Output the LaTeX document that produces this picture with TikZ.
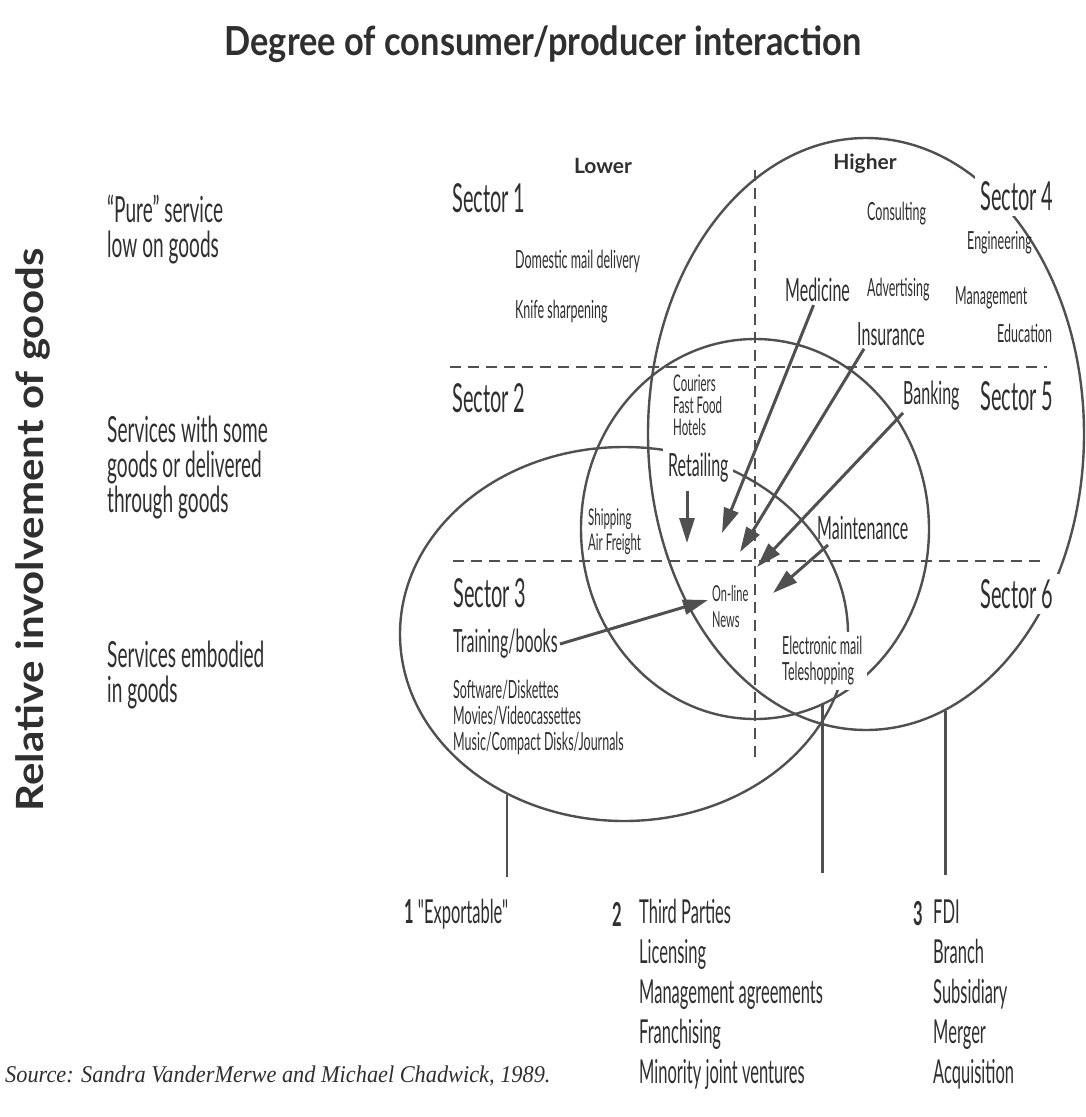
\documentclass[tikz,border=0pt]{standalone}
\usepackage{fontspec}
\usetikzlibrary{arrows.meta,shapes.geometric}
\setmainfont{Liberation Serif}
\newfontfamily\cf[FakeStretch=0.5]{Lato}
\newfontfamily\df[FakeStretch=0.53]{Lato}
\newfontfamily\hf{Lato}
\newfontfamily\vf[FakeStretch=1.12]{Lato}
\newfontfamily\tf[FakeStretch=0.86]{Lato}
\newfontfamily\srcfont[FakeStretch=0.93]{Liberation Serif}
\definecolor{ink}{HTML}{2f2f2f}
\definecolor{ln}{HTML}{505050}
\tikzset{
  lbl/.style={inner sep=0pt, anchor=west, text=ink, align=left},
  sectxt/.style={lbl, font=\cf\fontsize{40}{40}\selectfont},
  medtxt/.style={lbl, font=\cf\fontsize{32}{34}\selectfont},
  smtxt/.style={lbl, font=\cf\fontsize{25}{26}\selectfont},
  tinytxt/.style={lbl, font=\cf\fontsize{23}{22}\selectfont},
  desctxt/.style={lbl, font=\df\fontsize{36}{35}\selectfont},
  bottxt/.style={lbl, font=\cf\fontsize{33}{40}\selectfont},
  hdr/.style={inner sep=0pt, text=ink, font=\hf\bfseries\fontsize{21}{21}\selectfont},
  mask/.style={fill=white, inner sep=5pt},
  ellip/.style={draw=ln, line width=2.4pt, ellipse, inner sep=0pt},
  dsh/.style={draw=ln, line width=2pt, dash pattern=on 11pt off 7pt},
  arr/.style={draw=ln, line width=3pt, -{Triangle[length=25pt,width=15pt]}},
  conn/.style={draw=ln, line width=2.4pt},
}
\begin{document}
\begin{tikzpicture}[x=1pt,y=-1pt]
\useasboundingbox (0,0) rectangle (1086,1117);
\fill[white] (0,0) rectangle (1086,1117);

% ellipses
\node[ellip, minimum width=436pt, minimum height=592pt] (A) at (866,434) {};
\node[ellip, minimum width=348pt, minimum height=380pt] (B) at (755,529) {};
\node[ellip, minimum width=448pt, minimum height=374pt] (C) at (624,634) {};

% dashed grid
\draw[dsh] (755,170) -- (755,762);
\draw[dsh] (450,367) -- (1047,367);
\draw[dsh] (453,561) -- (1047,561);

% title and axis
\node[inner sep=0pt, text=ink, font=\tf\bfseries\fontsize{40}{42}\selectfont] (title) at (543,44) {Degree of consumer/producer interaction};
\node[inner sep=0pt, text=ink, rotate=90, font=\vf\bfseries\fontsize{37.5}{37.5}\selectfont] (yax) at (33,530) {Relative involvement of goods};

% left descriptions
\node[desctxt] (d1) at (107,230) {“Pure” service\\low on goods};
\node[desctxt] (d2) at (107,468) {Services with some\\goods or delivered\\through goods};
\node[desctxt] (d3) at (107,675) {Services embodied\\in goods};

% column headers
\node[hdr] (lower) at (603,166) {Lower};
\node[hdr] (higher) at (865,164) {Higher};

% sectors
\node[sectxt] (s1) at (452,198) {Sector 1};
\node[sectxt] (s2) at (452,398) {Sector 2};
\node[sectxt] (s3) at (453,593) {Sector 3};
\node[sectxt, mask] (s4) at (975,196) {Sector 4};
\node[sectxt] (s5) at (980,396) {Sector 5};
\node[sectxt, mask] (s6) at (975,594) {Sector 6};

% sector 1
\node[smtxt] (dom) at (515,261) {Domestic mail delivery};
\node[smtxt] (knf) at (515,312) {Knife sharpening};

% sector 4
\node[smtxt] (cons) at (867,214) {Consulting};
\node[smtxt] (eng) at (967,243) {Engineering};
\node[medtxt] (med) at (785,290) {Medicine};
\node[smtxt] (adv) at (867,290) {Advertising};
\node[smtxt] (mgt) at (955,298) {Management};
\node[medtxt] (ins) at (857,334) {Insurance};
\node[smtxt] (edu) at (997,333) {Education};

% sector 5 / 2
\node[medtxt] (bank) at (903,396) {Banking};
\node[medtxt] (mnt) at (817,528) {Maintenance};
\node[tinytxt] (cour) at (673,405) {Couriers\\Fast Food\\Hotels};
\node[medtxt, mask] (ret) at (663,468) {Retailing};
\node[tinytxt, font=\cf\fontsize{23}{25}\selectfont] (ship) at (588,532) {Shipping\\Air Freight};

% sector 3 / 6
\node[medtxt] (trn) at (453,644) {Training/books};
\node[smtxt] (soft) at (453,717) {Software/Diskettes\\Movies/Videocassettes\\Music/Compact Disks/Journals};
\node[tinytxt, font=\cf\fontsize{22}{26}\selectfont] (onl) at (712,606) {On-line\\News};
\node[smtxt, mask] (elm) at (777,661) {Electronic mail\\Teleshopping};

% bottom labels
\node[bottxt] (n1) at (404,914) {{\bfseries 1} "Exportable"};
\node[bottxt, font=\cf\bfseries\fontsize{33}{40}\selectfont] (n2) at (612,914) {2};
\node[bottxt] (l2) at (639,994) {Third Parties\\Licensing\\Management agreements\\Franchising\\Minority joint ventures};
\node[bottxt, font=\cf\bfseries\fontsize{33}{40}\selectfont] (n3) at (913,914) {3};
\node[bottxt] (l3) at (933,994) {FDI\\Branch\\Subsidiary\\Merger\\Acquisition};

\node[inner sep=0pt, anchor=west, text=ink, font=\srcfont\fontsize{24}{24}\selectfont\itshape] (src) at (5,1076) {Source: Sandra VanderMerwe and Michael Chadwick, 1989.};

% arrow tips
\coordinate (tMed) at (722,533);
\coordinate (tIns) at (740,552);
\coordinate (tBank) at (757,567);
\coordinate (tMnt) at (773,593);
\coordinate (tRet) at (687,543);
\coordinate (tTrn) at (708,600);

\draw[arr] ([xshift=-4pt,yshift=-3pt]med.south) -- (tMed);
\draw[arr] ([xshift=7pt,yshift=-3pt]ins.south west) -- (tIns);
\draw[arr] ([yshift=-2pt]bank.south west) -- (tBank);
\draw[arr] ([xshift=11pt,yshift=-5pt]mnt.south west) -- (tMnt);
\draw[arr] ([xshift=24pt,yshift=-3pt]ret.south west) -- (tRet);
\draw[arr] ([xshift=2pt]trn.east) -- (tTrn);

% connectors to modes of entry
\coordinate (e1) at (508,877);
\coordinate (e2) at (822,873);
\coordinate (e3) at (945,875);
\draw[conn] (C.234) -- (C.234 |- e1);
\draw[conn] (B.291) -- (B.291 |- e2);
\draw[conn] (A.286) -- (A.286 |- e3);
\end{tikzpicture}
\end{document}
